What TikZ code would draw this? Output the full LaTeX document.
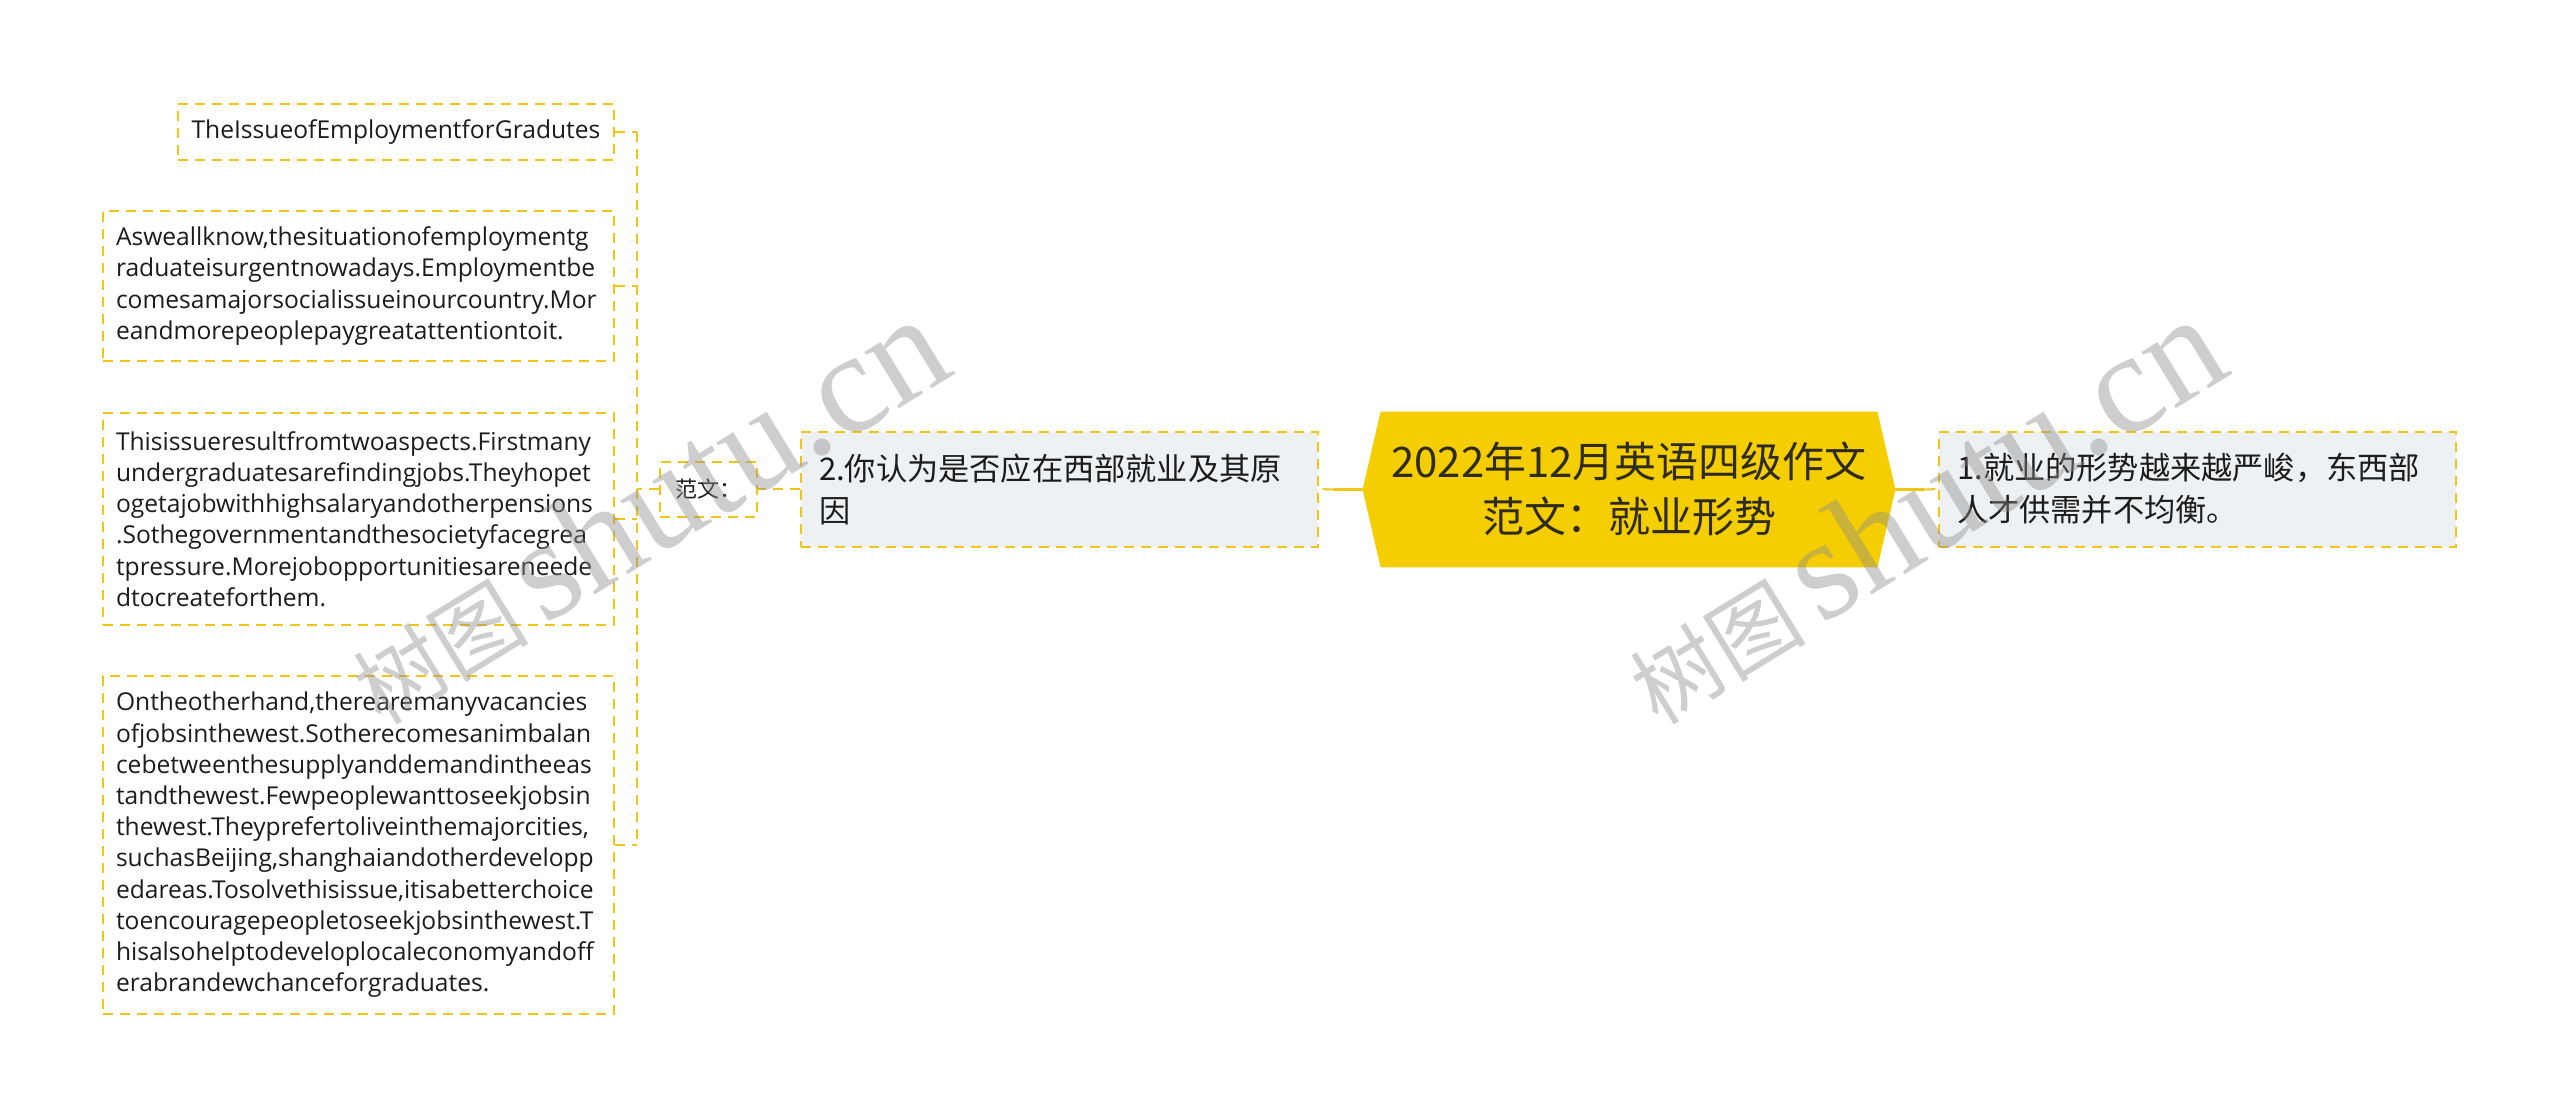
\documentclass[tikz,border=0pt]{standalone}
\usepackage{fontspec}
\setmainfont{Open Sans}
\newfontfamily\cjk{Noto Sans CJK SC}
\newfontfamily\wmlatin{Liberation Serif}
\usetikzlibrary{backgrounds}
\definecolor{lineY}{HTML}{F0C515}
\definecolor{rootY}{HTML}{F5CE02}
\definecolor{rootTxt}{HTML}{2F2B1F}
\definecolor{boxFill}{HTML}{EEF1F4}
\definecolor{txt}{HTML}{1C1C1C}
\definecolor{wm}{HTML}{8C8C8C}
\hyphenpenalty=10000
\exhyphenpenalty=10000
\begin{document}
\begin{tikzpicture}[x=0.5pt,y=-0.5pt,
  dashline/.style={draw=lineY, line width=1pt, dash pattern=on 5pt off 3.5pt},
  solidline/.style={draw=lineY, line width=1.2pt},
  leaf/.style={dashline, fill=white, text=txt, font=\fontsize{12.3}{15.6}\selectfont,
    align=left, inner xsep=6.5pt, inner ysep=0pt, anchor=east},
  midbox/.style={dashline, fill=boxFill, text=txt, font=\cjk\fontsize{15.6}{21}\selectfont,
    align=left, inner xsep=9pt, inner ysep=0pt, text width=240.5pt, minimum height=57.5pt},
  rootbox/.style={font=\cjk\fontsize{21}{27.5}\selectfont, text=rootTxt, align=center,
    minimum width=266pt, minimum height=77.5pt, inner sep=0pt},
  wmark/.style={text=wm, opacity=0.42, rotate=31.5, inner sep=0pt}
]
\useasboundingbox (0,0) rectangle (2560,1119);

% central node
\node[rootbox] (root) at (1629,489.5) {2022年12月英语四级作文\\范文：就业形势};

% level-1 boxes
\node[midbox, anchor=east] (q2) at (1319,489) {2.你认为是否应在西部就业及其原\\因};
\node[midbox, anchor=west] (q1) at (1938,489) {1.就业的形势越来越严峻，东西部\\人才供需并不均衡。};

% 范文
\node[leaf, anchor=center, font=\cjk\fontsize{11}{13}\selectfont, align=center,
      minimum width=48.5pt, minimum height=27.5pt, inner xsep=0pt] (fan) at (708.5,489) {范文：};

% leaves
\node[leaf, minimum width=218pt, minimum height=28pt] (title) at (615,132)
  {TheIssueofEmploymentforGradutes};
\node[leaf, text width=242.5pt, minimum height=75pt] (pa) at (615,286)
  {Asweallknow,thesituationofemploymentg\\
   raduateisurgentnowadays.Employmentbe\\
   comesamajorsocialissueinourcountry.Mor\\
   eandmorepeoplepaygreatattentiontoit.};
\node[leaf, text width=242.5pt, minimum height=106pt] (pb) at (615,519)
  {Thisissueresultfromtwoaspects.Firstmany\\
   undergraduatesarefindingjobs.Theyhopet\\
   ogetajobwithhighsalaryandotherpensions\\
   .Sothegovernmentandthesocietyfacegrea\\
   tpressure.Morejobopportunitiesareneede\\
   dtocreateforthem.};
\node[leaf, text width=242.5pt, minimum height=169pt] (pc) at (615,845)
  {Ontheotherhand,therearemanyvacancies\\
   ofjobsinthewest.Sotherecomesanimbalan\\
   cebetweenthesupplyanddemandintheeas\\
   tandthewest.Fewpeoplewanttoseekjobsin\\
   thewest.Theyprefertoliveinthemajorcities,\\
   suchasBeijing,shanghaiandotherdevelopp\\
   edareas.Tosolvethisissue,itisabetterchoice\\
   toencouragepeopletoseekjobsinthewest.T\\
   hisalsohelptodeveloplocaleconomyandoff\\
   erabrandewchanceforgraduates.};

% background: page and central hexagon
\begin{scope}[on background layer]
\fill[white] (0,0) rectangle (2560,1119);
\fill[rootY] (root.west) -- ([xshift=9pt]root.north west) -- ([xshift=-9pt]root.north east)
  -- (root.east) -- ([xshift=-9pt]root.south east) -- ([xshift=9pt]root.south west) -- cycle;
\end{scope}

% connectors
\draw[solidline] (root.west) -- ++(-30,0) coordinate (lj);
\draw[dashline] (lj) -- (q2.east);
\draw[solidline] (root.east) -- ++(30,0) coordinate (rj);
\draw[dashline] (rj) -- (q1.west);
\draw[dashline] (q2.west) -- (fan.east);
\coordinate (bus) at (637,489);
\draw[dashline] (fan.west) -- (bus);
\draw[dashline] (bus |- title.east) -- (bus |- pc.east);
\draw[dashline] (title.east) -- (bus |- title.east);
\draw[dashline] (pa.east) -- (bus |- pa.east);
\draw[dashline] (pb.east) -- (bus |- pb.east);
\draw[dashline] (pc.east) -- (bus |- pc.east);

% watermarks
\node[wmark] (wm1) at (645,510) {{\cjk\fontsize{44}{44}\selectfont 树图}\hspace{8pt}{\wmlatin\fontsize{72}{72}\selectfont shutu.cn}};
\node[wmark] (wm2) at (1922,510) {{\cjk\fontsize{44}{44}\selectfont 树图}\hspace{8pt}{\wmlatin\fontsize{72}{72}\selectfont shutu.cn}};
\end{tikzpicture}
\end{document}
